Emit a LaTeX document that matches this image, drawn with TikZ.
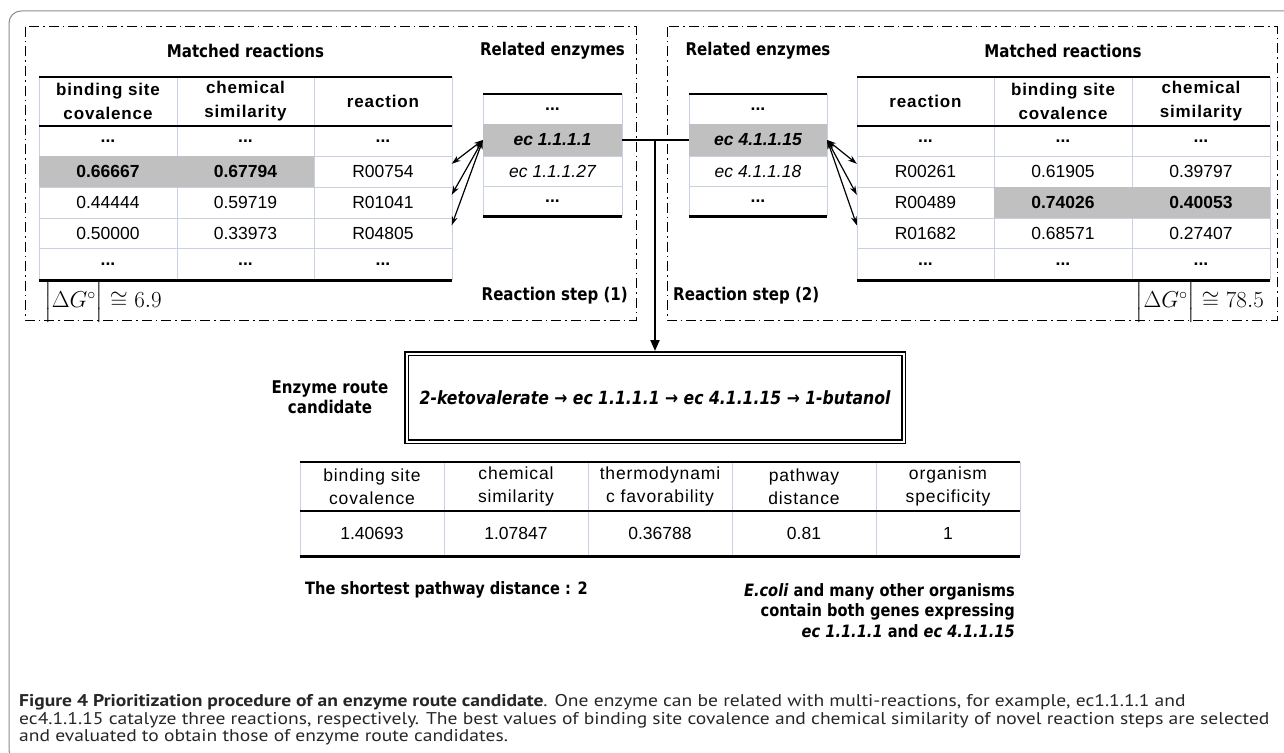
\RequirePackage{fix-cm}
\documentclass[tikz,border=0pt]{standalone}
\usepackage{amsmath}
\usepackage{amssymb}
\usepackage[no-math]{fontspec}
\setmainfont{Liberation Sans}
\newfontfamily\arialsp[LetterSpace=5]{Liberation Sans}
\newfontfamily\tahoma[FakeStretch=0.86]{DejaVu Sans}
\newfontfamily\capfont[FakeStretch=1.15]{PT Sans}
\usetikzlibrary{arrows.meta}

\definecolor{hl}{RGB}{192,192,192}
\definecolor{tline}{RGB}{200,208,226}
\definecolor{framegray}{RGB}{140,140,140}

\tikzset{
  tcell/.style={inner sep=0pt, font=\fontsize{17.5}{20}\selectfont},
  thead/.style={inner sep=0pt, align=center, font=\arialsp\bfseries\fontsize{17}{24}\selectfont},
  bhead/.style={inner sep=0pt, align=center, font=\arialsp\fontsize{17.5}{23}\selectfont},
  rcell/.style={tcell, minimum width=137pt, minimum height=31pt},
  hlcell/.style={tcell, fill=hl, minimum height=31pt, font=\bfseries\fontsize{17.5}{20}\selectfont},
  ecell/.style={tcell, font=\itshape\fontsize{17.5}{20}\selectfont},
  echl/.style={tcell, fill=hl, minimum width=139pt, minimum height=32pt, font=\bfseries\itshape\fontsize{17.5}{20}\selectfont},
  heading/.style={inner sep=0pt, font=\tahoma\bfseries\fontsize{17.5}{20}\selectfont},
  remark/.style={inner sep=0pt, font=\tahoma\bfseries\fontsize{17}{20.5}\selectfont},
  panel/.style={line width=1pt, dash pattern=on 10pt off 4pt on 1.5pt off 4pt},
  gridline/.style={tline, line width=1pt},
  link/.style={line width=2pt},
  biarrow/.style={{Stealth[length=9pt,width=6pt]}-{Stealth[length=9pt,width=6pt]}, line width=1.2pt},
  routebox/.style={draw, double, line width=1.5pt, double distance=2pt, minimum width=497pt, minimum height=88pt, outer sep=2.5pt, inner sep=0pt, font=\tahoma\bfseries\itshape\fontsize{18.2}{20}\selectfont},
  dg/.style={inner sep=0pt, font=\fontsize{23}{29.5}\selectfont}
}

\begin{document}
\begin{tikzpicture}[x=1pt,y=-1pt]
\useasboundingbox (0,0) rectangle (1284,752);
\draw[framegray, line width=1pt, rounded corners=12pt] (9,11) rectangle (1300,762);
\draw[panel] (25,27) rectangle (636,320);
\draw[panel] (667,27) rectangle (1277,320);

\draw[gridline] (39,77) -- (39,280) (177,77) -- (177,280) (314,77) -- (314,280) (452,77) -- (452,280);
\draw[gridline] (39,156) -- (452,156) (39,187) -- (452,187) (39,218) -- (452,218) (39,248) -- (452,248);
\draw[gridline] (857,77) -- (857,280) (994,77) -- (994,280) (1132,77) -- (1132,280) (1270,77) -- (1270,280);
\draw[gridline] (857,156) -- (1270,156) (857,187) -- (1270,187) (857,218) -- (1270,218) (857,248) -- (1270,248);
\draw[gridline] (483,94) -- (483,216) (622,94) -- (622,216) (483,124) -- (622,124) (483,156) -- (622,156) (483,186) -- (622,186);
\draw[gridline] (689,94) -- (689,216) (827,94) -- (827,216) (689,124) -- (827,124) (689,156) -- (827,156) (689,186) -- (827,186);
\draw[gridline] (300,462) -- (300,556) (444,462) -- (444,556) (588,462) -- (588,556) (732,462) -- (732,556) (876,462) -- (876,556) (1020,462) -- (1020,556);

\node[heading] (mL) at (245.5,51) {Matched reactions};
\node[heading] (eL) at (552.5,51) {Related enzymes};
\node[heading] (eR) at (758,51) {Related enzymes};
\node[heading] (mR) at (1063,51) {Matched reactions};

\node[thead] (Lh1) at (108,101.5) {binding site\\covalence};
\node[thead] (Lh2) at (245.5,101.5) {chemical\\similarity};
\node[thead] (Lh3) at (383,101.5) {reaction};
\node[tcell] (La1) at (108,141) {\textbf{...}};
\node[tcell] (La2) at (245.5,141) {\textbf{...}};
\node[tcell] (La3) at (383,141) {\textbf{...}};
\node[hlcell, minimum width=138pt] (Lb1) at (108,171.5) {0.66667};
\node[hlcell, minimum width=137pt] (Lb2) at (245.5,171.5) {0.67794};
\node[rcell] (Lb3) at (383,171.5) {R00754};
\node[tcell] (Lc1) at (108,202.5) {0.44444};
\node[tcell] (Lc2) at (245.5,202.5) {0.59719};
\node[rcell] (Lc3) at (383,202.5) {R01041};
\node[tcell] (Ld1) at (108,233) {0.50000};
\node[tcell] (Ld2) at (245.5,233) {0.33973};
\node[rcell] (Ld3) at (383,233) {R04805};
\node[tcell] (Le1) at (108,264) {\textbf{...}};
\node[tcell] (Le2) at (245.5,264) {\textbf{...}};
\node[tcell] (Le3) at (383,264) {\textbf{...}};

\node[thead] (Rh1) at (925.5,101.5) {reaction};
\node[thead] (Rh2) at (1063,101.5) {binding site\\covalence};
\node[thead] (Rh3) at (1201,101.5) {chemical\\similarity};
\node[tcell] (Ra1) at (925.5,141) {\textbf{...}};
\node[tcell] (Ra2) at (1063,141) {\textbf{...}};
\node[tcell] (Ra3) at (1201,141) {\textbf{...}};
\node[rcell] (Rb1) at (925.5,171.5) {R00261};
\node[tcell] (Rb2) at (1063,171.5) {0.61905};
\node[tcell] (Rb3) at (1201,171.5) {0.39797};
\node[rcell] (Rc1) at (925.5,202.5) {R00489};
\node[hlcell, minimum width=138pt] (Rc2) at (1063,202.5) {0.74026};
\node[hlcell, minimum width=138pt] (Rc3) at (1201,202.5) {0.40053};
\node[rcell] (Rd1) at (925.5,233) {R01682};
\node[tcell] (Rd2) at (1063,233) {0.68571};
\node[tcell] (Rd3) at (1201,233) {0.27407};
\node[tcell] (Re1) at (925.5,264) {\textbf{...}};
\node[tcell] (Re2) at (1063,264) {\textbf{...}};
\node[tcell] (Re3) at (1201,264) {\textbf{...}};

\node[tcell] (EL1) at (552.5,109) {\textbf{...}};
\node[echl] (EL2) at (552.5,140) {ec 1.1.1.1};
\node[ecell] (EL3) at (552.5,171) {ec 1.1.1.27};
\node[tcell] (EL4) at (552.5,201) {\textbf{...}};
\node[tcell] (ER1) at (758,109) {\textbf{...}};
\node[echl, minimum width=138pt] (ER2) at (758,140) {ec 4.1.1.15};
\node[ecell] (ER3) at (758,171) {ec 4.1.1.18};
\node[tcell] (ER4) at (758,201) {\textbf{...}};

\node[dg, anchor=west] (dgL) at (44,302) {$\Bigl|\Delta G^{\circ}\Bigr| \cong 6.9$};
\node[dg, anchor=east] (dgR) at (1264,302) {$\Bigl|\Delta G^{\circ}\Bigr| \cong 78.5$};
\node[heading, anchor=east] (sL) at (628,296) {Reaction step (1)};
\node[heading, anchor=west] (sR) at (673,296) {Reaction step (2)};

\node[routebox] (route) at (655,397.5) {2-ketovalerate → ec 1.1.1.1 → ec 4.1.1.15 → 1-butanol};
\node[heading, align=center] (cand) at (330,397) {Enzyme route\\candidate};

\node[bhead] (Bh1) at (372,486.5) {binding site\\covalence};
\node[bhead] (Bh2) at (516,486.5) {chemical\\similarity};
\node[bhead] (Bh3) at (660,486.5) {thermodynami\\c favorability};
\node[bhead] (Bh4) at (804,486.5) {pathway\\distance};
\node[bhead] (Bh5) at (948,486.5) {organism\\specificity};
\node[tcell] (Bv1) at (372,533.5) {1.40693};
\node[tcell] (Bv2) at (516,533.5) {1.07847};
\node[tcell] (Bv3) at (660,533.5) {0.36788};
\node[tcell] (Bv4) at (804,533.5) {0.81};
\node[tcell] (Bv5) at (948,533.5) {1};

\node[remark, anchor=west] (short) at (305,590) {The shortest pathway distance : 2};
\node[remark, anchor=north east, align=right] (orgs) at (1015,583) {\textit{E.coli} and many other organisms\\contain both genes expressing\\\textit{ec 1.1.1.1} and \textit{ec 4.1.1.15}};

\node[anchor=north west, inner sep=0pt, align=left, text=black!85, font=\capfont\fontsize{17}{17.8}\selectfont] (cap) at (19,694) {\textbf{Figure 4 Prioritization procedure of an enzyme route candidate}. One enzyme can be related with multi-reactions, for example, ec1.1.1.1 and\\ec4.1.1.15 catalyze three reactions, respectively. The best values of binding site covalence and chemical similarity of novel reaction steps are selected\\and evaluated to obtain those of enzyme route candidates.};

\draw[line width=1.5pt] (39,77) -- (452,77) (857,77) -- (1270,77);
\draw[line width=2pt] (39,126) -- (452,126) (857,126) -- (1270,126);
\draw[line width=3pt] (39,280) -- (452,280) (857,280) -- (1270,280);
\draw[line width=1.5pt] (483,94) -- (622,94) (689,94) -- (827,94);
\draw[line width=3pt] (483,216) -- (622,216) (689,216) -- (827,216);
\draw[line width=1.5pt] (300,462) -- (1020,462);
\draw[line width=2pt] (300,511) -- (1020,511);
\draw[line width=3pt] (300,556) -- (1020,556);

\coordinate (jn) at (655,140);
\draw[link] (EL2.east) -- (ER2.west);
\draw[link, -{Triangle[length=11pt,width=9pt]}] (jn) -- (route.north);
\draw[biarrow] (EL2.west) -- ([yshift=-8pt]Lb3.north east);
\draw[biarrow] (EL2.west) -- ([yshift=-8pt]Lc3.north east);
\draw[biarrow] (EL2.west) -- ([yshift=-8pt]Ld3.north east);
\draw[biarrow] (ER2.east) -- ([yshift=-8pt]Rb1.north west);
\draw[biarrow] (ER2.east) -- ([yshift=-8pt]Rc1.north west);
\draw[biarrow] (ER2.east) -- ([yshift=-8pt]Rd1.north west);
\end{tikzpicture}
\end{document}
